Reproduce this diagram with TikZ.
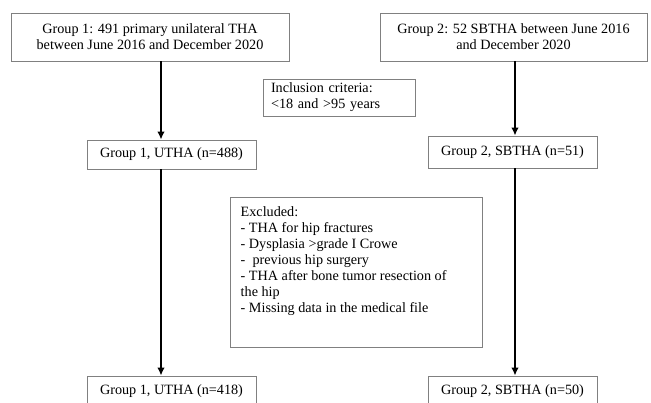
\documentclass[tikz,border=0pt]{standalone}
\usepackage{fontspec}
\setmainfont{Liberation Serif}
\usetikzlibrary{arrows.meta}

\begin{document}
\begin{tikzpicture}[x=1pt,y=-1pt,
    every node/.style={inner sep=0pt,font=\fontsize{14.2}{16}\selectfont},
    box/.style={draw=black!50,line width=0.8pt},
    flow/.style={line width=1.8pt,-{Latex[length=8pt,width=7.5pt]}}]

\useasboundingbox (0,0) rectangle (651,403);

\node[box,minimum width=278pt,minimum height=48pt,align=center] (top1) at (150,37)
    {Group 1: 491 primary unilateral THA\\between June 2016 and December 2020};
\node[box,minimum width=267pt,minimum height=48pt,align=center] (top2) at (513.5,37)
    {Group 2: 52 SBTHA between June 2016\\and December 2020};

\node[box,minimum width=152pt,minimum height=37pt,text width=136pt,align=left] (incl) at (339,97.5)
    {Inclusion criteria:\\<18 and >95 years};

\node[box,minimum width=169pt,minimum height=29pt] (g1a) at (171.5,154.5) {Group 1, UTHA (n=488)};
\node[box,minimum width=169pt,minimum height=32pt] (g2a) at (512.5,152) {Group 2, SBTHA (n=51)};

\node[box,minimum width=252pt,minimum height=150pt] (excl) at (356,272) {};
\node[anchor=north west,align=left] (excltext) at (240.5,206)
    {Excluded:\\
     - THA for hip fractures\\
     - Dysplasia >grade I Crowe\\
     -\ \ previous hip surgery\\
     - THA after bone tumor resection of\\
     the hip\\
     - Missing data in the medical file};

\node[box,minimum width=169pt,minimum height=31pt] (g1b) at (171.5,391.5) {Group 1, UTHA (n=418)};
\node[box,minimum width=169pt,minimum height=31pt] (g2b) at (512.5,391.5) {Group 2, SBTHA (n=50)};

\coordinate (g1line) at (161,0);
\coordinate (g2line) at (515,0);

\draw[flow] (top1.south -| g1line) -- (g1a.north -| g1line);
\draw[flow] (g1a.south -| g1line) -- (g1b.north -| g1line);
\draw[flow] (top2.south -| g2line) -- (g2a.north -| g2line);
\draw[flow] (g2a.south -| g2line) -- (g2b.north -| g2line);
\end{tikzpicture}
\end{document}
